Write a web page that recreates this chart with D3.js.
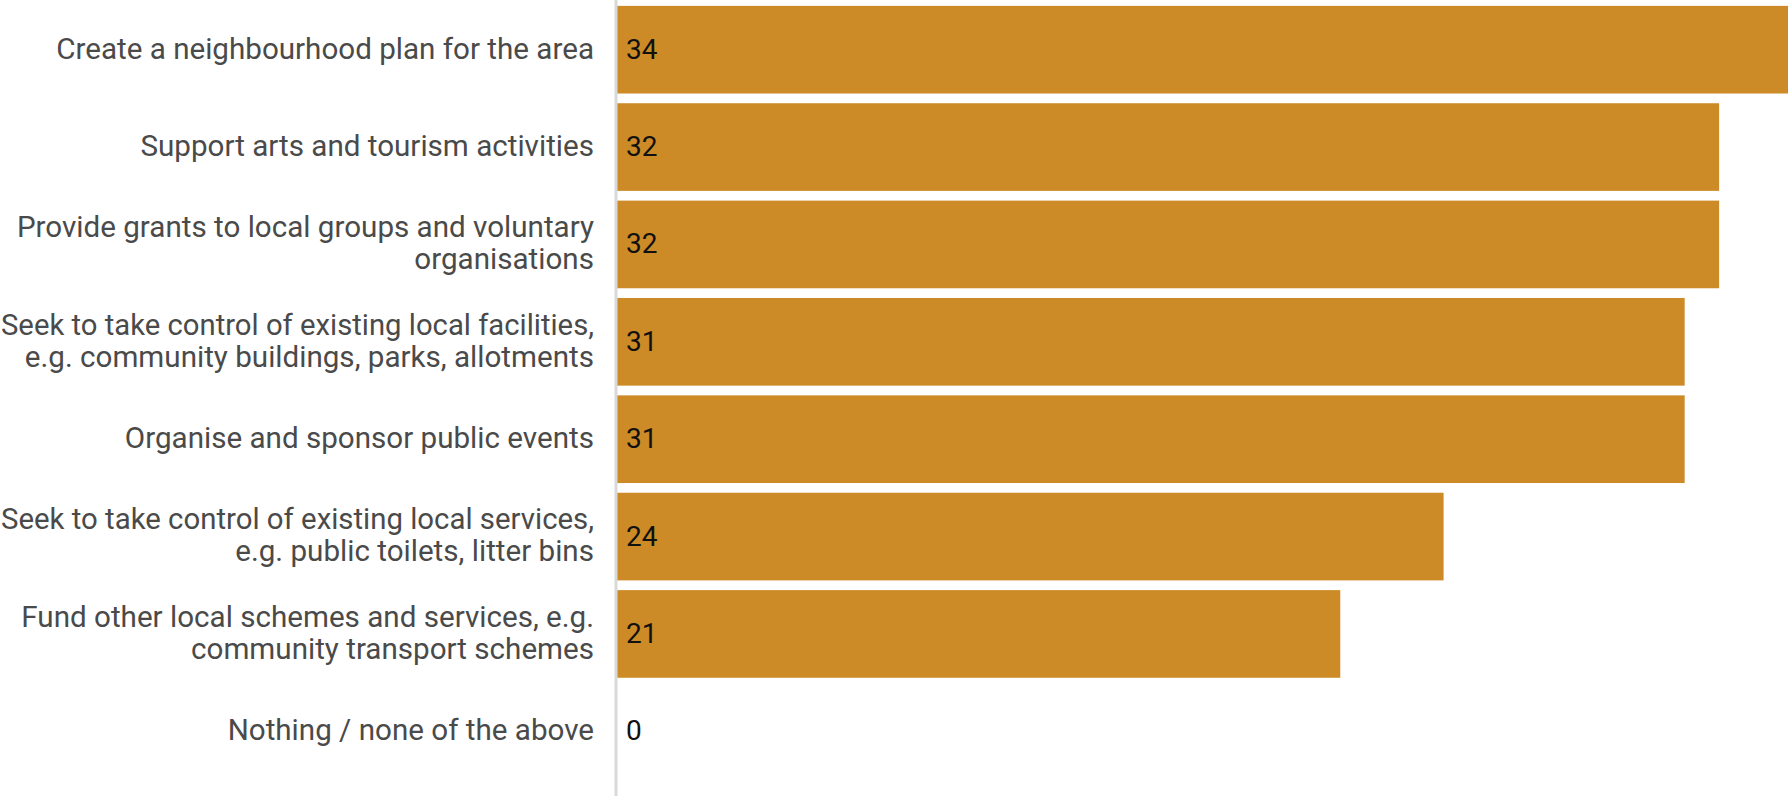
<!DOCTYPE html>
<html>
<head>
<meta charset="utf-8">
<script src="https://cdn.jsdelivr.net/npm/d3@7/dist/d3.min.js"></script>
<style>
  html, body { margin: 0; padding: 0; background: #fff; }
  svg { display: block; }
</style>
</head>
<body>
<svg id="chart" width="1788" height="796"></svg>
<script>
const categories = [
  "Create a neighbourhood plan for the area",
  "Support arts and tourism activities",
  "Provide grants to local groups and voluntary\norganisations",
  "Seek to take control of existing local facilities,\ne.g. community buildings, parks, allotments",
  "Organise and sponsor public events",
  "Seek to take control of existing local services,\ne.g. public toilets, litter bins",
  "Fund other local schemes and services, e.g.\ncommunity transport schemes",
  "Nothing / none of the above"
];
const values = [34, 32, 32, 31, 31, 24, 21, 0];

const W = 1788, H = 796;
const axisX = 616;
const labelRight = 594;
const svg = d3.select("#chart");

const x = d3.scaleLinear().domain([0, 34]).range([axisX + 1, W]);
const y = d3.scaleBand().domain(categories).range([1, 780]).paddingInner(0.1).paddingOuter(0.05);

const data = categories.map((c, i) => ({ c, v: values[i] }));

svg.append("g").selectAll("rect").data(data).join("rect")
  .attr("x", x(0))
  .attr("y", d => y(d.c))
  .attr("width", d => x(d.v) - x(0))
  .attr("height", y.bandwidth())
  .attr("fill", "#cc8b26");

svg.append("line")
  .attr("x1", axisX).attr("x2", axisX)
  .attr("y1", 0).attr("y2", H)
  .attr("stroke", "#d9d9d9").attr("stroke-width", 3);

const fontSize = 29.6, lineH = 32;
const labels = svg.append("g").selectAll("text").data(data).join("text")
  .attr("text-anchor", "end")
  .attr("font-family", "Roboto, sans-serif")
  .attr("font-size", fontSize)
  .attr("fill", "#4a4a4a");
labels.each(function(d) {
  const lines = d.c.split("\n");
  const cy = y(d.c) + y.bandwidth() / 2;
  const t = d3.select(this);
  lines.forEach((ln, i) => {
    const ts = t.append("tspan")
      .attr("x", labelRight)
      .attr("y", cy + (i - (lines.length - 1) / 2) * lineH)
      .attr("dy", "0.3em")
      .text(ln);
    const len = ts.node().getComputedTextLength();
    const maxLen = labelRight - 1;
    if (len > maxLen) {
      ts.attr("textLength", maxLen).attr("lengthAdjust", "spacingAndGlyphs");
    }
  });
});

svg.append("g").selectAll("text").data(data).join("text")
  .attr("x", x(0) + 9)
  .attr("y", d => y(d.c) + y.bandwidth() / 2)
  .attr("dy", "0.32em")
  .attr("font-family", "Roboto, sans-serif")
  .attr("font-size", 28)
  .attr("fill", "#111")
  .text(d => d.v);
</script>
</body>
</html>
